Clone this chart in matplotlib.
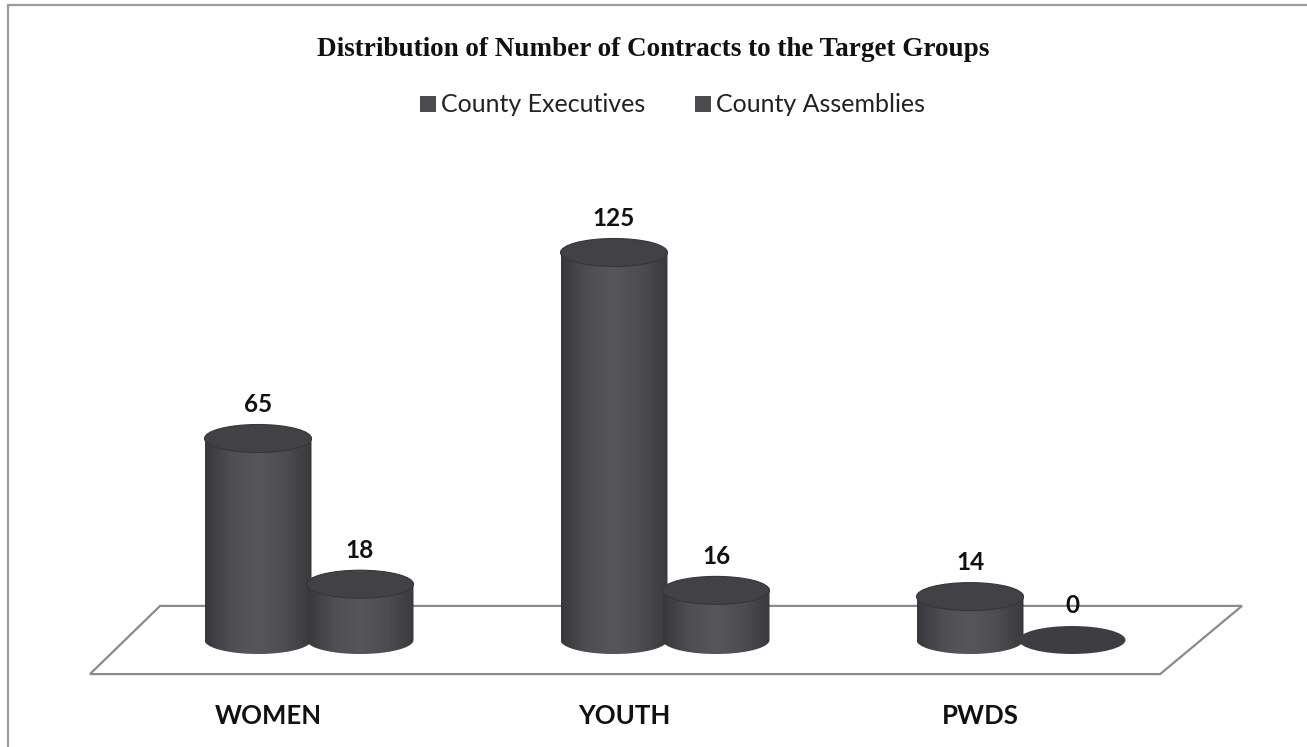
import numpy as np
import matplotlib.pyplot as plt
from matplotlib.patches import Ellipse, PathPatch, Rectangle
from matplotlib.path import Path
from matplotlib.colors import LinearSegmentedColormap

# data
categories = ['WOMEN', 'YOUTH', 'PWDS']
series_names = ['County Executives', 'County Assemblies']
executives = [65, 125, 14]
assemblies = [18, 16, 0]

title = 'Distribution of Number of Contracts to the Target Groups'

# pixel geometry of the reference -> data scale
W, H = 1307, 747
px_per_cat = 356.0
px_per_val = 3.1
x0_px, y0_px = 258.0, 640.0

fig = plt.figure(figsize=(W / 100, H / 100), dpi=100)
ax = fig.add_axes([0, 0, 1, 1])
xlim = (-x0_px / px_per_cat, (W - x0_px) / px_per_cat)
ylim = (-(H - y0_px) / px_per_val, y0_px / px_per_val)
ax.set_xlim(*xlim)
ax.set_ylim(*ylim)
ax.axis('off')

# outer frame (left and top visible)
fig.patches.append(Rectangle((8 / W, -0.01), 1.2, 1 - 5 / H + 0.01, transform=fig.transFigure,
                             fill=False, edgecolor='#9a9aa0', linewidth=1.6))

# floor
n = len(categories)
floor = np.array([[-0.275, 11.0], [n - 1 + 0.764, 11.0], [n - 1 + 0.534, -11.0], [-0.472, -11.0]])
ax.add_patch(plt.Polygon(floor, closed=True, fill=False, edgecolor='#8a8a8e', linewidth=1.6, zorder=1))

cyl_w = 107 / px_per_cat
ell_h = 28 / px_per_val
offset = 102 / px_per_cat

cmap = LinearSegmentedColormap.from_list('cyl', ['#38383c', '#4e4e53', '#56565b', '#4c4c51', '#3a3a3e'])
grad = np.linspace(0, 1, 256).reshape(1, -1)


def cylinder(cx, val, z):
    left, right = cx - cyl_w / 2, cx + cyl_w / 2
    if val <= 0:
        ax.add_patch(Ellipse((cx, 0), cyl_w, ell_h, facecolor='#3d3d42', edgecolor='none', zorder=z))
        return
    t = np.linspace(np.pi, 2 * np.pi, 60)
    verts = [(left, val), (left, 0)]
    verts += list(zip(cx + cyl_w / 2 * np.cos(t), ell_h / 2 * np.sin(t)))
    verts += [(right, val), (left, val)]
    body = PathPatch(Path(verts), facecolor='none', edgecolor='none', zorder=z)
    ax.add_patch(body)
    im = ax.imshow(grad, cmap=cmap, extent=(left, right, -ell_h / 2, val), aspect='auto',
                   zorder=z, interpolation='bilinear')
    im.set_clip_path(body)
    ax.add_patch(Ellipse((cx, val), cyl_w, ell_h, facecolor='#414146', edgecolor='#36363a',
                         linewidth=0.8, zorder=z + 0.1))


label_font = dict(family=['Lato', 'DejaVu Sans'], fontweight='bold', color='#111111')
for i, cat in enumerate(categories):
    cylinder(i, executives[i], 3)
    cylinder(i + offset, assemblies[i], 4)
    ax.text(i, executives[i] + 11, str(executives[i]), ha='center', va='center', fontsize=17.5, **label_font)
    ax.text(i + offset, assemblies[i] + 11, str(assemblies[i]), ha='center', va='center', fontsize=17.5,
            **label_font)
    ax.text(i + 0.03, -24.5, cat, ha='center', va='center', fontsize=18.5, **label_font)
ax.set_xlim(*xlim)
ax.set_ylim(*ylim)

fig.text(0.5, 1 - 49 / H, title, ha='center', va='center', fontsize=19.5, fontweight='bold',
         family='Liberation Serif', color='#111111')

# legend
leg_y = 1 - 104 / H
for name, x_px in zip(series_names, [420, 695]):
    fig.patches.append(Rectangle((x_px / W, leg_y - 8 / H), 16 / W, 16 / H, transform=fig.transFigure,
                                 facecolor='#4a4a4f', edgecolor='none'))
    fig.text((x_px + 21) / W, leg_y, name, ha='left', va='center', fontsize=18,
             family=['Lato', 'DejaVu Sans'], color='#222222')

fig.savefig('out.png', dpi=100, facecolor='white')
